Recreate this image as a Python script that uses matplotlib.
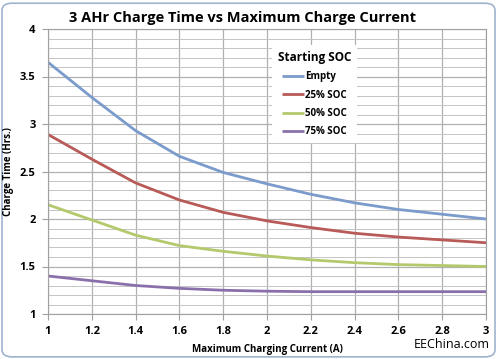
import numpy as np
import matplotlib
matplotlib.use("Agg")
import matplotlib.pyplot as plt
from matplotlib.patches import FancyBboxPatch
from matplotlib.ticker import MultipleLocator

plt.rcParams['font.family'] = ['Open Sans', 'DejaVu Sans']

# max charging current (A)
current = [1.0, 1.2, 1.4, 1.6, 1.8, 2.0, 2.2, 2.4, 2.6, 2.8, 3.0]

# charge time (hrs) per starting SOC
empty = [3.65, 3.28, 2.93, 2.66, 2.49, 2.37, 2.26, 2.17, 2.10, 2.05, 2.00]
soc25 = [2.89, 2.63, 2.38, 2.20, 2.07, 1.98, 1.91, 1.85, 1.81, 1.78, 1.75]
soc50 = [2.15, 1.99, 1.83, 1.72, 1.66, 1.61, 1.57, 1.54, 1.52, 1.51, 1.50]
soc75 = [1.40, 1.35, 1.30, 1.27, 1.25, 1.24, 1.235, 1.235, 1.235, 1.235, 1.235]

labels = ['Empty', '25% SOC', '50% SOC', '75% SOC']
colors = ['#7a9bcb', '#b85a57', '#b4c96c', '#8a70ab']

fig = plt.figure(figsize=(4.98, 3.59), dpi=100)

# rounded chart frame
frame = FancyBboxPatch((0.004, 0.006), 0.99, 0.985, boxstyle='round,pad=0,rounding_size=0.02',
                       transform=fig.transFigure, facecolor='white', edgecolor='#9fb3cf',
                       linewidth=1.2, zorder=-5)
fig.patches.append(frame)

ax = fig.add_axes([48/498, 1 - 314/359, (486 - 48)/498, (314 - 29)/359])
ax.set_zorder(1)

for ys, lab, c in zip([empty, soc25, soc50, soc75], labels, colors):
    ax.plot(current, ys, color=c, lw=2, label=lab, solid_capstyle='butt')

ax.set_xlim(1, 3)
ax.set_ylim(1, 4)
ax.yaxis.set_minor_locator(MultipleLocator(0.1))
ax.grid(which='major', color='#b0b0b0', lw=0.9)
ax.grid(which='minor', axis='y', color='#c4c4c4', lw=0.7)
ax.set_axisbelow(True)
for s in ax.spines.values():
    s.set_color('#a0a0a0')
ax.tick_params(which='major', length=4, color='#a0a0a0', labelsize=8, pad=5)
ax.tick_params(which='minor', length=0)
ax.set_xticks(current)
ax.set_xticklabels([f'{v:g}' for v in current], fontweight='bold')
yt = [1, 1.5, 2, 2.5, 3, 3.5, 4]
ax.set_yticks(yt)
ax.set_yticklabels([f'{v:g}' for v in yt], fontweight='bold')

ax.set_xlabel('Maximum Charging Current (A)', fontsize=7, fontweight='bold', labelpad=5)
ax.set_ylabel('Charge Time (Hrs.)', fontsize=7, fontweight='bold', labelpad=4)

fig.text(0.487, 0.95, '3 AHr Charge Time vs Maximum Charge Current', ha='center', va='center',
         fontsize=10.5, fontweight='bold')

leg = ax.legend(title='Starting SOC', loc='upper left', bbox_to_anchor=(0.5, 0.96),
                frameon=True, fancybox=False, edgecolor='none', framealpha=1,
                prop={'size': 7, 'weight': 'bold'}, handlelength=2.2, handletextpad=0.1,
                labelspacing=0.75, borderpad=0.6)
leg.get_title().set_fontweight('bold')
leg.get_title().set_fontsize(8.5)

fig.text(0.983, 0.04, 'EEChina.com', ha='right', va='center', fontsize=9)

fig.savefig('out.png', dpi=100)
